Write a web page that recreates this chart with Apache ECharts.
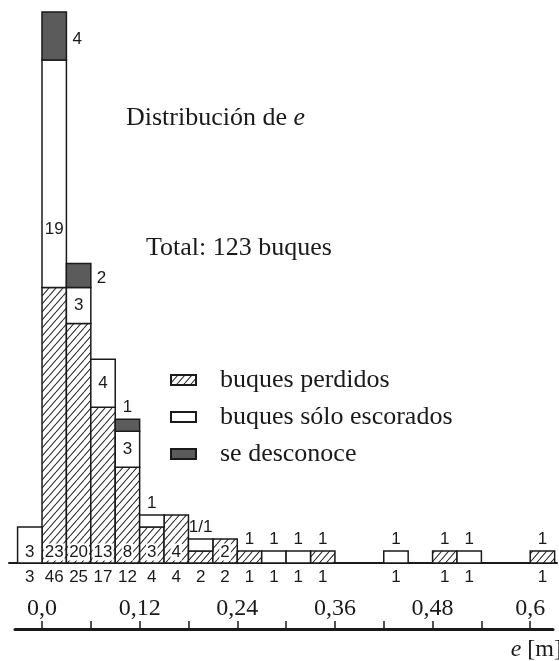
<!DOCTYPE html>
<html>
<head>
<meta charset="utf-8">
<script src="https://cdn.jsdelivr.net/npm/echarts@6/dist/echarts.min.js"></script>
<style>
  html, body { margin: 0; padding: 0; background: #fff; }
  #chart { width: 559px; height: 661px; }
</style>
</head>
<body>
<div id="chart"></div>
<script>
// histogram of e, bins 0.03 m wide (left edges)
const binStart  = [-0.03, 0.00, 0.03, 0.06, 0.09, 0.12, 0.15, 0.18, 0.21, 0.24, 0.27,
                    0.30, 0.33, 0.36, 0.39, 0.42, 0.45, 0.48, 0.51, 0.54, 0.57, 0.60];
const binWidth  = 0.03;
const perdidos  = [0, 23, 20, 13, 8, 3, 4, 1, 2, 1, 0, 0, 1, 0, 0, 0, 0, 1, 0, 0, 0, 1];
const escorados = [3, 19, 3, 4, 3, 1, 0, 1, 0, 0, 1, 1, 0, 0, 0, 1, 0, 0, 1, 0, 0, 0];
const desconoce = [0, 4, 2, 0, 1, 0, 0, 0, 0, 0, 0, 0, 0, 0, 0, 0, 0, 0, 0, 0, 0, 0];
const tickValues  = [0, 0.12, 0.24, 0.36, 0.48, 0.6];
const minorTicks  = [0, 0.06, 0.12, 0.18, 0.24, 0.30, 0.36, 0.42, 0.48, 0.54, 0.6];
const seriesNames = ['buques perdidos', 'buques sólo escorados', 'se desconoce'];

const serif = '"Liberation Serif", "Times New Roman", serif';
const sans = '"Liberation Sans", Arial, sans-serif';
const ink = '#1a1a1a';

// px per metre and where 0 sits, to keep both x axes on the same scale
const zeroX = 42, pxPerUnit = 813.7;
const W = 559;
const xr = (l, r) => ({ min: (l - zeroX) / pxPerUnit, max: (W - r - zeroX) / pxPerUnit });
const base = xr(9, 2), lower = xr(15, 6);

function makeHatch() {
  const c = document.createElement('canvas');
  c.width = 7; c.height = 8;
  const ctx = c.getContext('2d');
  ctx.fillStyle = '#fff';
  ctx.fillRect(0, 0, 7, 8);
  ctx.strokeStyle = '#2a2a2a';
  ctx.lineWidth = 1.1;
  ctx.beginPath();
  [-7, 0, 7].forEach(dx => { ctx.moveTo(dx, 8); ctx.lineTo(dx + 7, 0); });
  ctx.stroke();
  return c;
}
const hatch = { image: makeHatch(), repeat: 'repeat' };
const fills = [hatch, '#fff', '#5b5b5b'];

// stacked segments [x0, x1, lo, hi]
const stacks = [perdidos, escorados, desconoce];
const acc = binStart.map(() => 0);
const segData = stacks.map(vals => binStart.map((b, i) => {
  const lo = acc[i];
  acc[i] += vals[i];
  return [b, b + binWidth, lo, acc[i]];
}));
const total = acc.reduce((a, b) => a + b, 0);

function renderSeg(params, api) {
  const lo = api.value(2), hi = api.value(3);
  if (hi <= lo) return null;
  const a = api.coord([api.value(0), lo]);
  const b = api.coord([api.value(1), hi]);
  return {
    type: 'rect',
    shape: { x: a[0], y: b[1], width: b[0] - a[0], height: a[1] - b[1] },
    style: { fill: fills[params.seriesIndex], stroke: ink, lineWidth: 1.5 }
  };
}

function renderLabels(params, api) {
  const x0 = api.value(0), x1 = api.value(1);
  const p = api.value(2), w = api.value(3), d = api.value(4);
  const tot = p + w + d;
  if (!tot) return null;
  const xc = api.coord([(x0 + x1) / 2, 0])[0];
  const xRight = api.coord([x1, 0])[0];
  const yAt = v => api.coord([x0, v])[1];
  const yBase = yAt(0);
  const kids = [];
  const txt = (x, y, s, extra) => kids.push({
    type: 'text', x: x, y: y,
    style: Object.assign({
      text: String(s), fontFamily: sans, fontSize: 17, fill: ink,
      align: 'center', verticalAlign: 'middle'
    }, extra || {})
  });
  const ones = [];
  if (p >= 2) txt(xc, yBase - 11, p, { backgroundColor: '#fff', padding: [0, 1] });
  else if (p === 1) ones.push(1);
  if (w >= 2) {
    const lo = yAt(p), hi = yAt(p + w);
    txt(xc, p === 0 ? yBase - 11 : Math.max((lo + hi) / 2, lo - 58), w);
  } else if (w === 1) ones.push(1);
  if (d >= 2) txt(xRight + 6, (yAt(p + w) + yAt(tot)) / 2 + 3, d, { align: 'left' });
  else if (d === 1) ones.push(1);
  if (ones.length) txt(xc, yAt(tot) - 12, ones.join('/'));
  txt(xc, yBase + 14, tot);
  return { type: 'group', children: kids };
}

const plain = { fontFamily: serif, fontSize: 26, fontWeight: 'normal', color: ink };
const ital = Object.assign({}, plain, { fontStyle: 'italic' });

const chart = echarts.init(document.getElementById('chart'), null, { renderer: 'canvas' });
chart.setOption({
  animation: false,
  backgroundColor: '#fff',
  title: [
    {
      text: '{n|Distribución de }{i|e}', left: 126, top: 105, padding: 0,
      textStyle: Object.assign({ rich: { n: plain, i: ital } }, plain)
    },
    {
      text: 'Total: ' + total + ' buques', left: 146, top: 235, padding: 0,
      textStyle: plain
    },
    {
      text: '{i|e} [m]', right: -3, top: 638, padding: 0,
      textStyle: Object.assign({ rich: {
        i: Object.assign({}, ital, { fontSize: 24 })
      } }, plain, { fontSize: 24 })
    }
  ],
  legend: {
    data: seriesNames,
    orient: 'vertical',
    left: 170, top: 367, padding: 0,
    icon: 'rect',
    itemWidth: 25, itemHeight: 10, itemGap: 11,
    selectedMode: false,
    textStyle: { fontFamily: serif, fontSize: 26, color: ink, padding: [0, 0, 0, 19] }
  },
  grid: [
    { left: 9, right: 2, top: 12, bottom: 98 },
    { left: 15, right: 6, top: 590, bottom: 32 }
  ],
  xAxis: [
    {
      gridIndex: 0, type: 'value', min: base.min, max: base.max,
      axisLine: { show: true, lineStyle: { color: ink, width: 2 } },
      axisTick: { show: false }, axisLabel: { show: false }, splitLine: { show: false }
    },
    {
      gridIndex: 1, type: 'value', min: lower.min, max: lower.max,
      axisLine: { show: true, lineStyle: { color: ink, width: 3 } },
      axisTick: { show: true, inside: true, length: 8, customValues: minorTicks,
                  lineStyle: { color: ink, width: 1.5 } },
      axisLabel: {
        inside: true, margin: 8, customValues: tickValues,
        fontFamily: serif, fontSize: 24, color: ink,
        formatter: v => v === 0 ? '0,0' : String(v).replace('.', ',')
      },
      splitLine: { show: false }
    }
  ],
  yAxis: [
    { gridIndex: 0, type: 'value', min: 0, max: 46, show: false },
    { gridIndex: 1, type: 'value', min: 0, max: 1, show: false }
  ],
  series: seriesNames.map((name, k) => ({
    name: name,
    type: 'custom',
    xAxisIndex: 0, yAxisIndex: 0,
    renderItem: renderSeg,
    encode: { x: [0, 1], y: [2, 3] },
    itemStyle: { color: fills[k], borderColor: ink, borderWidth: 1.5 },
    data: segData[k]
  })).concat([{
    name: 'labels',
    type: 'custom',
    xAxisIndex: 0, yAxisIndex: 0,
    renderItem: renderLabels,
    encode: { x: [0, 1] },
    silent: true,
    z: 5,
    data: binStart.map((b, i) => [b, b + binWidth, perdidos[i], escorados[i], desconoce[i]])
  }])
});
</script>
</body>
</html>
